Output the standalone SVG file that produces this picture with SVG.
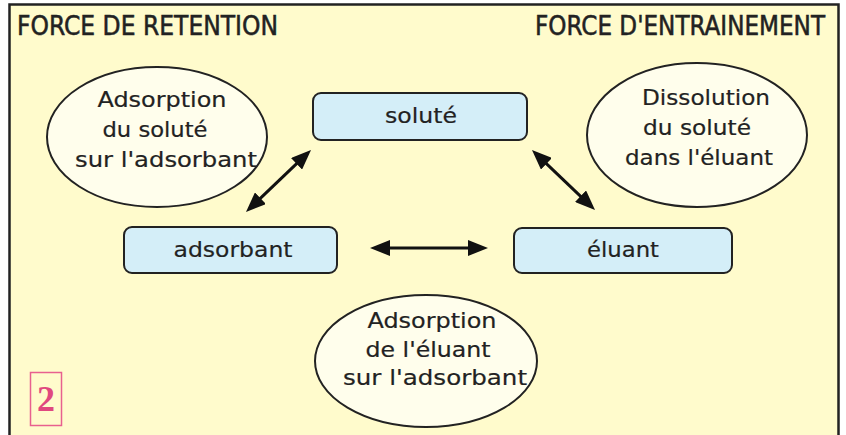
<svg xmlns="http://www.w3.org/2000/svg" width="846" height="435" viewBox="0 0 846 435">
<defs>
<marker id="ah" viewBox="0 0 20 16" markerWidth="20" markerHeight="16" markerUnits="userSpaceOnUse" refX="11" refY="8" orient="auto-start-reverse">
<path d="M0,0 L20,8 L0,16 z" fill="#111"/>
</marker>
<style>
.hdr{font-family:"DejaVu Sans Condensed","DejaVu Sans","Liberation Sans",sans-serif;font-stretch:condensed;font-size:26px;fill:#222;stroke:#222;stroke-width:0.5}
.box{fill:#D4EEF8;stroke:#222;stroke-width:2}
.ell{fill:#FFFEEC;stroke:#222;stroke-width:2}
.t{font-family:"DejaVu Sans","Liberation Sans",sans-serif;font-size:21px;fill:#222;text-anchor:middle;stroke:#222;stroke-width:0.2}
.bt{font-family:"DejaVu Sans","Liberation Sans",sans-serif;font-size:22px;fill:#222;text-anchor:middle;stroke:#222;stroke-width:0.2}
.conn line{stroke:#111;stroke-width:3;marker-start:url(#ah);marker-end:url(#ah)}
</style>
</defs>
<rect x="0" y="0" width="846" height="435" fill="#fff"/>
<rect x="9.5" y="4.5" width="829" height="440" fill="#FFFBCC" stroke="#222" stroke-width="2.5"/>
<g id="header-left"><text class="hdr" x="17" y="35" textLength="261" lengthAdjust="spacingAndGlyphs">FORCE DE RETENTION</text></g>
<g id="header-right"><text class="hdr" x="825" y="35" text-anchor="end" textLength="290" lengthAdjust="spacingAndGlyphs">FORCE D'ENTRAINEMENT</text></g>
<g id="ell-left">
<ellipse class="ell" cx="157" cy="137" rx="110" ry="70"/>
<text class="t" x="162" y="107" textLength="129" lengthAdjust="spacingAndGlyphs">Adsorption</text>
<text class="t" x="155" y="137" textLength="105" lengthAdjust="spacingAndGlyphs">du soluté</text>
<text class="t" x="166" y="167" textLength="182" lengthAdjust="spacingAndGlyphs">sur l'adsorbant</text>
</g>
<g id="ell-right">
<ellipse class="ell" cx="697" cy="135" rx="110" ry="72"/>
<text class="t" x="706" y="105" textLength="128" lengthAdjust="spacingAndGlyphs">Dissolution</text>
<text class="t" x="697" y="135" textLength="108" lengthAdjust="spacingAndGlyphs">du soluté</text>
<text class="t" x="699" y="165" textLength="148" lengthAdjust="spacingAndGlyphs">dans l'éluant</text>
</g>
<g id="ell-bottom">
<ellipse class="ell" cx="426" cy="361" rx="111" ry="66"/>
<text class="t" x="432" y="328" textLength="129" lengthAdjust="spacingAndGlyphs">Adsorption</text>
<text class="t" x="428" y="357" textLength="125" lengthAdjust="spacingAndGlyphs">de l'éluant</text>
<text class="t" x="435" y="385" textLength="184" lengthAdjust="spacingAndGlyphs">sur l'adsorbant</text>
</g>
<g id="solute">
<rect class="box" x="313" y="93" width="214" height="47" rx="8"/>
<text class="bt" x="421" y="123" textLength="72" lengthAdjust="spacingAndGlyphs">soluté</text>
</g>
<g id="adsorbant">
<rect class="box" x="124" y="227" width="213" height="46" rx="8"/>
<text class="bt" x="233" y="257" textLength="119" lengthAdjust="spacingAndGlyphs">adsorbant</text>
</g>
<g id="eluant">
<rect class="box" x="514" y="228" width="218" height="45" rx="8"/>
<text class="bt" x="623" y="257" textLength="72" lengthAdjust="spacingAndGlyphs">éluant</text>
</g>
<g id="connectors" class="conn">
<line x1="252.5" y1="205.8" x2="304.5" y2="156.2"/>
<line x1="538.5" y1="156.2" x2="588.5" y2="203.8"/>
<line x1="379" y1="248" x2="479" y2="248"/>
</g>
<g id="label-2">
<rect x="30.5" y="372.5" width="31" height="53" fill="none" stroke="#E8608F" stroke-width="1.5"/>
<text x="46" y="411" text-anchor="middle" font-family="Liberation Serif, serif" font-weight="bold" font-size="36" fill="#E0487F">2</text>
</g>
</svg>
